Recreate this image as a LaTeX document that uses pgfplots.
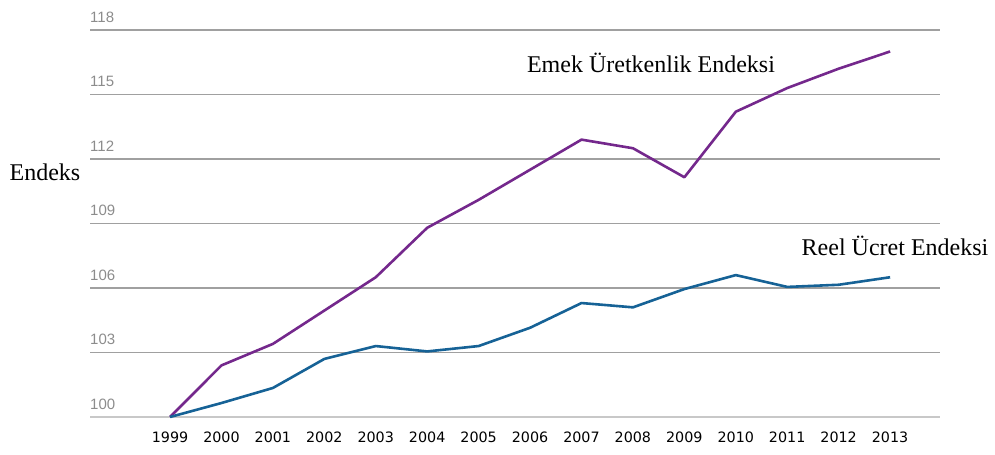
\documentclass[border=0pt]{standalone}
\usepackage{pgfplots}
\pgfplotsset{compat=1.18}
\usepackage{fontspec}
\setmainfont{Liberation Serif}
\newfontfamily\tickfont{DejaVu Sans}
\newfontfamily\ytickfont{Liberation Sans}
\definecolor{emek}{RGB}{116,40,140}
\definecolor{reel}{RGB}{22,98,150}
\definecolor{gridc}{RGB}{160,160,160}
\definecolor{basec}{RGB}{200,200,200}
\begin{document}
\begin{tikzpicture}[x=1bp,y=1bp]
\path[use as bounding box] (0,0) rectangle (995,455);
\begin{axis}[
  at={(90bp,38bp)}, anchor=south west,
  scale only axis, width=850bp, height=387bp,
  xmin=1997.444, xmax=2013.97, ymin=100, ymax=118,
  axis line style={draw=none},
  clip=false,
  xtick={1999,...,2013},
  ytick={103,106,...,118},
  extra y ticks={100},
  extra y tick style={grid=none},
  ymajorgrids, xmajorgrids=false,
  major grid style={gridc, line width=1.9bp},
  major tick length=0pt,
  tick style={draw=none},
  /pgf/number format/assume math mode=true,
  xticklabel style={font=\tickfont\fontsize{14.3bp}{16bp}\selectfont, text=black, /pgf/number format/1000 sep={}, anchor=north, inner sep=0pt, yshift=-15bp},
  yticklabel style={font=\ytickfont\fontsize{15bp}{17bp}\selectfont, text=black!45, anchor=base west, inner sep=0pt, yshift=7.5bp},
]
\draw[basec, line width=2.8bp] (axis cs:1997.444,100) -- (axis cs:2013.97,100);
\addplot[emek, line width=2.6bp, line join=round, mark=none] coordinates {
(1999,100.0) (2000,102.4) (2001,103.4) (2002,104.95) (2003,106.5) (2004,108.8)
(2005,110.1) (2006,111.5) (2007,112.9) (2008,112.5) (2009,111.15) (2010,114.2)
(2011,115.3) (2012,116.2) (2013,117.0)};
\addplot[reel, line width=2.6bp, line join=round, mark=none] coordinates {
(1999,100.0) (2000,100.65) (2001,101.35) (2002,102.7) (2003,103.3) (2004,103.05)
(2005,103.3) (2006,104.15) (2007,105.3) (2008,105.1) (2009,105.95) (2010,106.6)
(2011,106.05) (2012,106.15) (2013,106.5)};
\end{axis}
\node[font=\fontsize{24bp}{26bp}\selectfont] at (45,283) {Endeks};
\node[font=\fontsize{24bp}{26bp}\selectfont] at (651,392) {Emek Üretkenlik Endeksi};
\node[font=\fontsize{24bp}{26bp}\selectfont] at (895,209) {Reel Ücret Endeksi};
\end{tikzpicture}
\end{document}
